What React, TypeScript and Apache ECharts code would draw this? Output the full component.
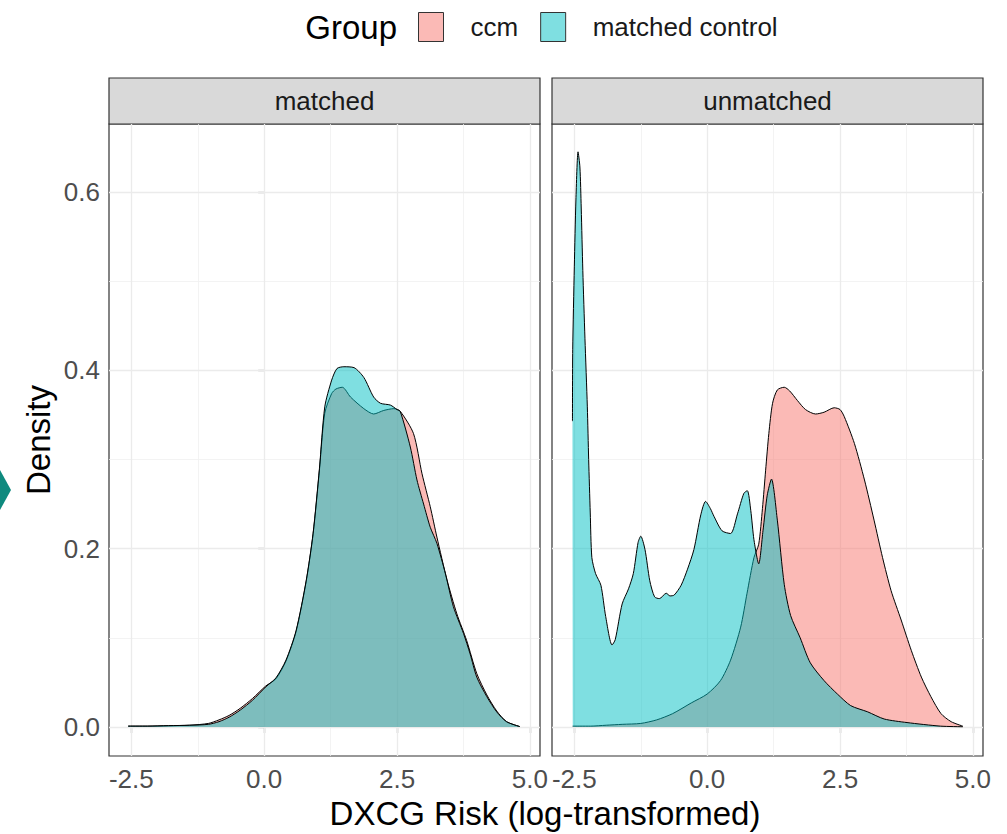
import React, { useEffect, useRef } from "react";
import * as echarts from "echarts";

// ---- axis ticks ----
const xTicks = [-2.5, 0, 2.5, 5];
const xMinorTicks = [-1.25, 1.25, 3.75];
const yTicks = [0, 0.2, 0.4, 0.6];
const yMinorTicks = [0.1, 0.3, 0.5];
const X_MIN = -2.92;
const X_MAX = 5.19;
const Y_MIN = -0.0325;
const Y_MAX = 0.6762;

// ---- facets / groups ----
const panels = ["matched", "unmatched"];
const groups = ["ccm", "matched control"];

// ---- density estimates ----
// panel "matched", group ccm
const matchedCcmX = [-2.56, -2.2, -1.8, -1.4, -1.05, -0.85, -0.66, -0.45, -0.22, 0.03, 0.22, 0.41, 0.6, 0.79, 0.92, 1.04, 1.14, 1.27, 1.35, 1.47, 1.625, 1.875, 2.06, 2.25, 2.44, 2.56, 2.81, 2.97, 3.125, 3.25, 3.44, 3.625, 3.81, 4.0, 4.19, 4.375, 4.56, 4.81];
const matchedCcmY = [0.001, 0.001, 0.0015, 0.002, 0.004, 0.008, 0.013, 0.021, 0.032, 0.046, 0.054, 0.074, 0.107, 0.163, 0.216, 0.288, 0.352, 0.374, 0.379, 0.381, 0.37, 0.357, 0.351, 0.355, 0.357, 0.354, 0.329, 0.284, 0.247, 0.213, 0.165, 0.127, 0.097, 0.06, 0.036, 0.018, 0.006, 0.0005];
// panel "matched", group matched control
const matchedCtrlX = [-2.56, -2.2, -1.8, -1.4, -1.05, -0.85, -0.66, -0.45, -0.22, 0.03, 0.22, 0.41, 0.6, 0.79, 0.92, 1.04, 1.14, 1.27, 1.37, 1.5, 1.69, 1.875, 2.06, 2.19, 2.375, 2.5, 2.56, 2.75, 2.875, 3.0, 3.125, 3.25, 3.41, 3.56, 3.75, 3.875, 4.0, 4.19, 4.375, 4.56, 4.81];
const matchedCtrlY = [0.001, 0.001, 0.0015, 0.002, 0.003, 0.006, 0.011, 0.019, 0.03, 0.045, 0.055, 0.075, 0.108, 0.164, 0.217, 0.29, 0.359, 0.389, 0.402, 0.404, 0.403, 0.392, 0.37, 0.363, 0.361, 0.356, 0.354, 0.314, 0.277, 0.25, 0.224, 0.206, 0.172, 0.135, 0.105, 0.082, 0.056, 0.034, 0.017, 0.006, 0.0005];
// panel "unmatched", group ccm
const unmatchedCcmX = [-2.53, -2.2, -1.9, -1.6, -1.25, -0.95, -0.65, -0.3, 0, 0.25, 0.44, 0.63, 0.75, 0.88, 0.97, 1.04, 1.1, 1.16, 1.23, 1.32, 1.45, 1.55, 1.7, 1.85, 2.04, 2.2, 2.39, 2.5, 2.58, 2.77, 2.96, 3.14, 3.3, 3.46, 3.65, 3.84, 4.03, 4.21, 4.4, 4.59, 4.81];
const unmatchedCcmY = [0.001, 0.001, 0.002, 0.003, 0.004, 0.008, 0.015, 0.027, 0.037, 0.052, 0.075, 0.112, 0.15, 0.19, 0.205, 0.245, 0.288, 0.329, 0.363, 0.378, 0.381, 0.377, 0.366, 0.356, 0.351, 0.353, 0.358, 0.356, 0.348, 0.318, 0.277, 0.232, 0.19, 0.153, 0.12, 0.086, 0.056, 0.034, 0.015, 0.006, 0.001];
// panel "unmatched", group matched control
const unmatchedCtrlX = [-2.535, -2.53, -2.5, -2.47, -2.43, -2.395, -2.37, -2.34, -2.3, -2.255, -2.23, -2.2, -2.17, -2.1, -2.0, -1.91, -1.79, -1.73, -1.6, -1.48, -1.39, -1.3, -1.25, -1.17, -1.08, -0.99, -0.9, -0.77, -0.7, -0.62, -0.49, -0.37, -0.25, -0.12, -0.03, 0.06, 0.13, 0.28, 0.44, 0.57, 0.69, 0.755, 0.82, 0.88, 0.97, 1.05, 1.13, 1.21, 1.32, 1.45, 1.57, 1.75, 1.94, 2.2, 2.45, 2.7, 3.02, 3.33, 3.76, 4.39, 4.81];
const unmatchedCtrlY = [0.343, 0.423, 0.516, 0.591, 0.645, 0.628, 0.582, 0.512, 0.436, 0.359, 0.3, 0.24, 0.19, 0.172, 0.159, 0.124, 0.092, 0.098, 0.138, 0.155, 0.172, 0.207, 0.214, 0.199, 0.164, 0.146, 0.144, 0.15, 0.147, 0.148, 0.159, 0.177, 0.199, 0.238, 0.253, 0.245, 0.236, 0.22, 0.217, 0.239, 0.262, 0.265, 0.243, 0.21, 0.183, 0.22, 0.26, 0.278, 0.232, 0.16, 0.125, 0.1, 0.072, 0.052, 0.037, 0.024, 0.017, 0.009, 0.005, 0.001, 0.0003];

const FONT = "'Liberation Sans', Arial, Helvetica, sans-serif";
const FILLS = ["#F8766D", "#00BFC4"];
const KEY_FILLS = ["#FBBAB6", "#7FDFE1"];

const pairs = (xs: number[], ys: number[]) => xs.map((x, i) => [x, ys[i]]);

export default function App() {
  const ref = useRef<HTMLDivElement>(null);
  useEffect(() => {
    if (!ref.current) return;
    const chart = echarts.init(ref.current, null, { renderer: "svg" });

    const gridLefts = [109, 552];
    const gridWidth = 431;
    const gridTop = 124;
    const gridHeight = 632;

    const major = { color: "#EBEBEB", width: 1.3, type: "solid" };
    const minor = { color: "#F0F0F0", width: 0.8, type: "solid" };

    const panelData = [
      [pairs(matchedCcmX, matchedCcmY), pairs(matchedCtrlX, matchedCtrlY)],
      [pairs(unmatchedCcmX, unmatchedCcmY), pairs(unmatchedCtrlX, unmatchedCtrlY)],
    ];

    const series: any[] = [];
    panels.forEach((_, i) => {
      series.push({
        type: "line",
        name: "grid-" + i,
        xAxisIndex: i,
        yAxisIndex: i,
        data: [],
        silent: true,
        z: 1,
        showSymbol: false,
        markLine: {
          silent: true,
          z: 1,
          symbol: ["none", "none"],
          label: { show: false },
          emphasis: { disabled: true },
          data: [
            ...xMinorTicks.map((v) => ({ xAxis: v, lineStyle: minor })),
            ...yMinorTicks.map((v) => ({ yAxis: v, lineStyle: minor })),
            ...xTicks.map((v) => ({ xAxis: v, lineStyle: major })),
            ...yTicks.map((v) => ({ yAxis: v, lineStyle: major })),
          ],
        },
      });
      groups.forEach((g, k) => {
        series.push({
          type: "line",
          name: g,
          xAxisIndex: i,
          yAxisIndex: i,
          data: panelData[i][k],
          z: 3 + k,
          showSymbol: false,
          symbol: "none",
          smooth: 0.25,
          itemStyle: { color: FILLS[k] },
          lineStyle: { color: "#000000", width: 1 },
          areaStyle: { color: FILLS[k], opacity: 0.5 },
          emphasis: { disabled: true },
        });
      });
    });

    const graphic: any[] = [];
    panels.forEach((p, i) => {
      graphic.push({
        type: "rect",
        shape: { x: gridLefts[i], y: 78, width: gridWidth, height: 46 },
        style: { fill: "#D9D9D9", stroke: "#333333", lineWidth: 1.2 },
        silent: true,
      });
      graphic.push({
        type: "text",
        x: gridLefts[i] + gridWidth / 2,
        y: 101,
        style: { text: p, fill: "#1A1A1A", font: `26px ${FONT}`, align: "center", verticalAlign: "middle" },
        silent: true,
      });
    });
    graphic.push({
      type: "text",
      x: 397,
      y: 27,
      style: { text: "Group", fill: "#000000", font: `33px ${FONT}`, align: "right", verticalAlign: "middle" },
    });
    graphic.push({
      type: "text",
      x: 545,
      y: 813,
      style: { text: "DXCG Risk (log-transformed)", fill: "#000000", font: `33px ${FONT}`, align: "center", verticalAlign: "middle" },
    });
    graphic.push({
      type: "text",
      x: 38,
      y: 440,
      rotation: Math.PI / 2,
      style: { text: "Density", fill: "#000000", font: `33px ${FONT}`, align: "center", verticalAlign: "middle" },
    });
    graphic.push({
      type: "polygon",
      shape: { points: [[0, 470], [11, 490], [0, 510]] },
      style: { fill: "#0E8A7E" },
    });

    const option: any = {
      animation: false,
      backgroundColor: "#ffffff",
      textStyle: { fontFamily: FONT },
      legend: {
        left: 418,
        top: 12,
        padding: 0,
        icon: "rect",
        itemWidth: 25,
        itemHeight: 29,
        itemGap: 22,
        selectedMode: false,
        textStyle: { fontSize: 26, color: "#1A1A1A", fontFamily: FONT, padding: [0, 0, 0, 22] },
        data: groups.map((g, k) => ({
          name: g,
          itemStyle: { color: KEY_FILLS[k], borderColor: "#333333", borderWidth: 1 },
        })),
      },
      grid: gridLefts.map((l) => ({
        left: l,
        top: gridTop,
        width: gridWidth,
        height: gridHeight,
        show: true,
        z: 0,
        backgroundColor: "#ffffff",
        borderColor: "#333333",
        borderWidth: 1.2,
      })),
      xAxis: panels.map((_, i) => ({
        type: "value",
        gridIndex: i,
        min: X_MIN,
        max: X_MAX,
        axisLine: { show: false },
        splitLine: { show: false },
        axisTick: { show: true, customValues: xTicks, length: 6, lineStyle: { color: "#333333", width: 1.2 } },
        axisLabel: {
          customValues: xTicks,
          formatter: (v: number) => v.toFixed(1),
          fontSize: 26,
          color: "#4D4D4D",
          margin: 10,
          fontFamily: FONT,
        },
      })),
      yAxis: panels.map((_, i) => ({
        type: "value",
        gridIndex: i,
        min: Y_MIN,
        max: Y_MAX,
        axisLine: { show: false },
        splitLine: { show: false },
        axisTick: { show: i === 0, customValues: yTicks, length: 6, lineStyle: { color: "#333333", width: 1.2 } },
        axisLabel: {
          show: i === 0,
          customValues: yTicks,
          formatter: (v: number) => v.toFixed(1),
          fontSize: 26,
          color: "#4D4D4D",
          margin: 9,
          fontFamily: FONT,
        },
      })),
      series,
      graphic,
    };

    chart.setOption(option);
    return () => chart.dispose();
  }, []);

  return (
    <div
      ref={ref}
      style={{ position: "fixed", left: 0, top: 0, width: 1007, height: 834, background: "#ffffff" }}
    />
  );
}
